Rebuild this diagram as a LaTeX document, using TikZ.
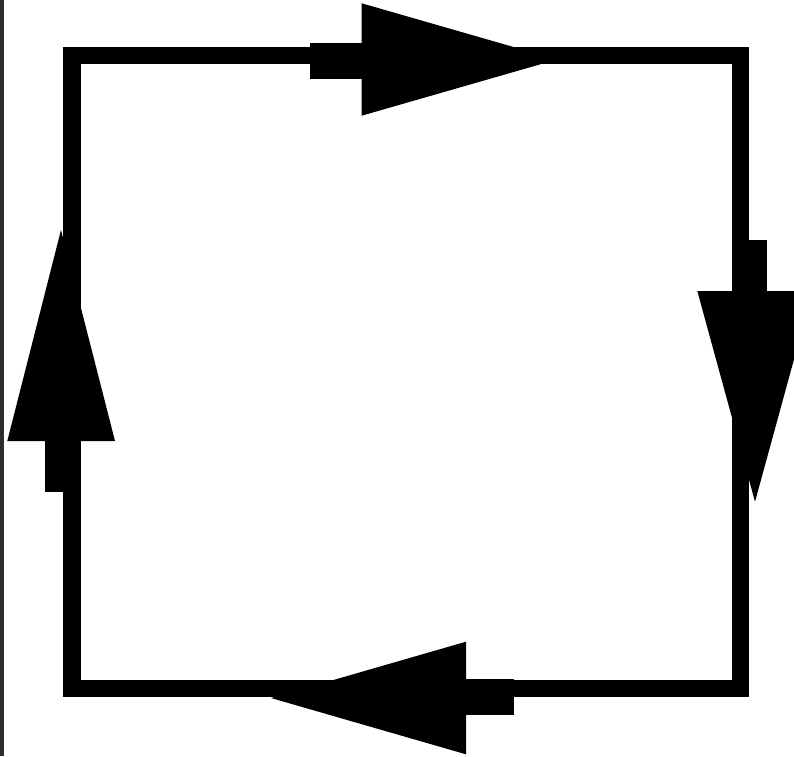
\documentclass[tikz,border=0pt]{standalone}
\begin{document}
\begin{tikzpicture}[x=1pt,y=-1pt,
  edge/.style={line width=17.5pt, draw=black, line join=miter},
  headfill/.style={fill=black, draw=none}]
\useasboundingbox (0,0) rectangle (794,756);
\fill[white] (0,0) rectangle (794,756);
\clip (0,0) rectangle (794,756);
\fill[black!82] (0,0) rectangle (4,756);
% square corners
\coordinate (tl) at (72.2,55.5);
\coordinate (br) at (740.4,688.3);
\draw[edge] (tl) rectangle (br);
% top arrow (pointing right)
\fill[headfill] (310,43.3) rectangle (362,79);
\fill[headfill] (361.7,3.3) -- (361.7,115.7) -- (557,59.5) -- cycle;
% right arrow (pointing down)
\fill[headfill] (731.7,240) rectangle (767.3,291.3);
\fill[headfill] (697.3,291) -- (812.7,291) -- (755,501.7) -- cycle;
% bottom arrow (pointing left)
\fill[headfill] (465.7,679.3) rectangle (514.3,715);
\fill[headfill] (466,641.7) -- (466,754.3) -- (271,698) -- cycle;
% left arrow (pointing up)
\fill[headfill] (45,440.7) rectangle (81,492.3);
\fill[headfill] (7.3,441) -- (115,441) -- (61,230) -- cycle;
\end{tikzpicture}
\end{document}
